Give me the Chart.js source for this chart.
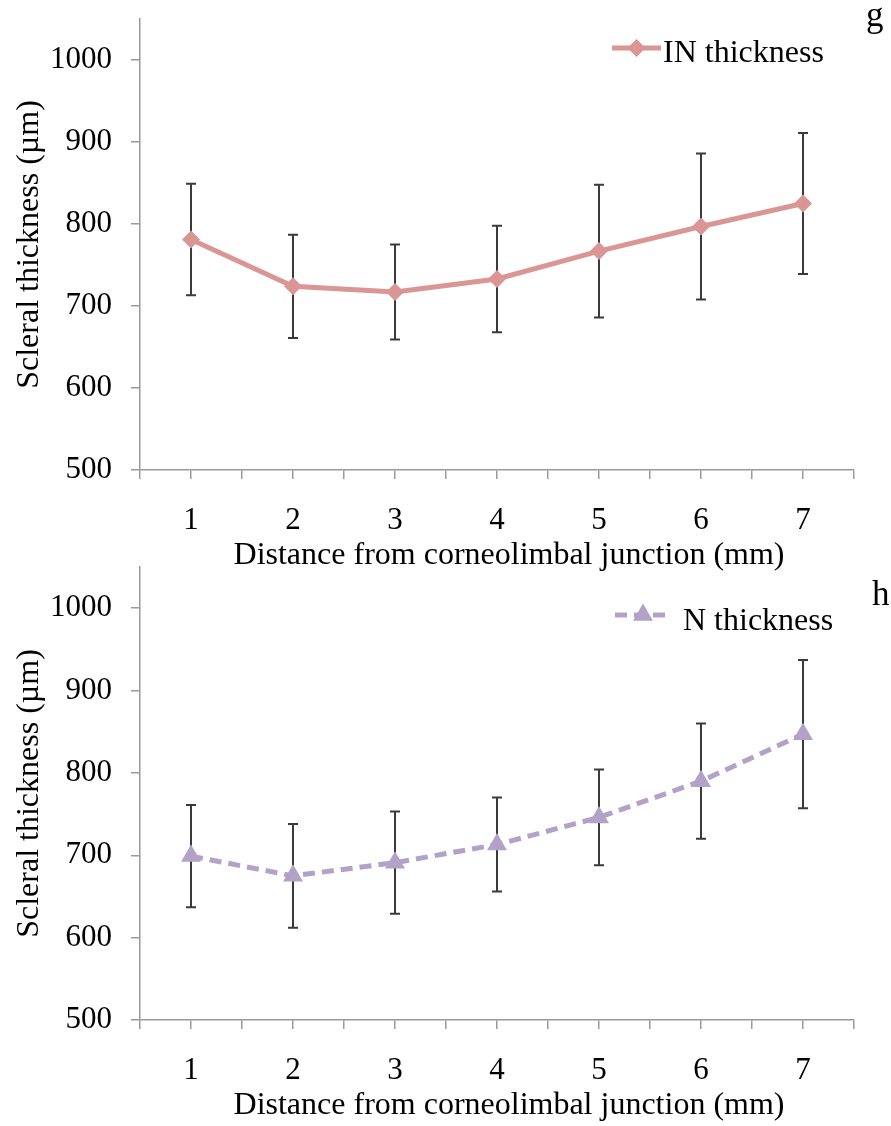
<!DOCTYPE html>
<html>
<head>
<meta charset="utf-8">
<title>Scleral thickness</title>
<script src="https://cdn.jsdelivr.net/npm/chart.js@4.4.1/dist/chart.umd.min.js"></script>
<style>
  html, body { margin: 0; padding: 0; background: #fff; }
  #wrap { position: relative; width: 891px; height: 1126px; }
  #wrap canvas { position: absolute; left: 0; }
  #chartIN { top: 0; }
  #chartN { top: 548px; }
</style>
</head>
<body>
<div id="wrap">
  <canvas id="chartIN" width="891" height="580"></canvas>
  <canvas id="chartN" width="891" height="578"></canvas>
</div>
<script>
// distance from corneolimbal junction (mm)
const distances = [1, 2, 3, 4, 5, 6, 7];

// inferonasal scleral thickness, mean and SD (µm)
const inThickness = [781, 724, 717, 733, 767, 797, 825];
const inSD = [68, 63, 58, 65, 81, 89, 86];

// nasal scleral thickness, mean and SD (µm)
const nThickness = [699, 675, 691, 713, 746, 790, 847];
const nSD = [62, 63, 62, 57, 58, 70, 90];

const yMin = 500, yMax = 1050, yStep = 100;
const xTitle = 'Distance from corneolimbal junction (mm)';
const yTitle = 'Scleral thickness (µm)';

const serif = '"Liberation Serif", "Times New Roman", serif';
const axisGray = '#9a9a9a';
Chart.defaults.font.family = serif;
Chart.defaults.color = '#000';

// whiskers behind the line and markers
const errorBars = {
  id: 'errorBars',
  beforeDatasetsDraw(chart) {
    const { ctx, scales: { x, y } } = chart;
    ctx.save();
    ctx.strokeStyle = '#3a3a3a';
    ctx.lineWidth = 2;
    chart.data.datasets.forEach(ds => {
      ds.data.forEach((p, i) => {
        const e = ds.errors[i];
        const px = x.getPixelForValue(p.x);
        const hi = y.getPixelForValue(p.y + e);
        const lo = y.getPixelForValue(p.y - e);
        ctx.beginPath();
        ctx.moveTo(px, hi); ctx.lineTo(px, lo);
        ctx.moveTo(px - 5, hi); ctx.lineTo(px + 5, hi);
        ctx.moveTo(px - 5, lo); ctx.lineTo(px + 5, lo);
        ctx.stroke();
      });
    });
    ctx.restore();
  }
};

// excel style key (line + marker), x axis title and the panel letter
const seriesKey = {
  id: 'seriesKey',
  afterDraw(chart, args, opts) {
    const ctx = chart.ctx;
    const ds = chart.data.datasets[0];
    const xs = chart.scales.x;
    ctx.save();
    ctx.strokeStyle = ds.borderColor;
    ctx.lineWidth = ds.borderWidth;
    ctx.setLineDash(ds.borderDash || []);
    ctx.beginPath();
    ctx.moveTo(opts.x0, opts.lineY);
    ctx.lineTo(opts.x1, opts.lineY);
    ctx.stroke();
    ctx.setLineDash([]);
    ctx.fillStyle = ds.pointBackgroundColor;
    Chart.helpers.drawPoint(ctx, {
      pointStyle: ds.pointStyle, radius: ds.pointRadius, rotation: 0, borderWidth: 0
    }, (opts.x0 + opts.x1) / 2, opts.lineY);
    ctx.fillStyle = '#000';
    ctx.textBaseline = 'alphabetic';
    ctx.textAlign = 'left';
    ctx.font = '32px ' + serif;
    ctx.fillText(ds.label, opts.textX, opts.textY);
    ctx.textAlign = 'center';
    ctx.fillText(xTitle, (xs.left + xs.right) / 2 + 12, xs.top + 94);
    ctx.textAlign = 'left';
    ctx.font = '35px ' + serif;
    ctx.fillText(opts.panel, opts.panelX, opts.panelY);
    ctx.restore();
  }
};

function makeChart(id, dataset, xAxisHeight, key) {
  return new Chart(document.getElementById(id), {
    type: 'line',
    data: { datasets: [dataset] },
    plugins: [errorBars, seriesKey],
    options: {
      responsive: false,
      animation: false,
      devicePixelRatio: 1,
      layout: { padding: { top: 0, right: 37, left: 0, bottom: 0 } },
      plugins: {
        legend: { display: false },
        tooltip: { enabled: false },
        seriesKey: key
      },
      scales: {
        x: {
          type: 'linear',
          min: 0.5,
          max: 7.5,
          afterFit(s) { s.height = xAxisHeight; },
          ticks: {
            stepSize: 0.5,
            autoSkip: false,
            maxRotation: 0,
            padding: 23,
            font: { size: 31 },
            callback: v => (Number.isInteger(v) && distances.includes(v)) ? String(v) : ''
          },
          grid: { drawOnChartArea: false, drawTicks: true, tickLength: 9, color: axisGray, lineWidth: 1.5 },
          border: { display: true, color: axisGray, width: 1.5 },
          title: { display: false }
        },
        y: {
          min: yMin,
          max: yMax,
          // fixed axis box: 140px wide, 19px free space above the plot
          afterFit(s) { s.width = 140; s.paddingTop = 19; s.paddingBottom = 0; },
          ticks: {
            stepSize: yStep,
            includeBounds: false,
            padding: 19,
            font: { size: 31 },
            callback: v => String(v)
          },
          grid: { drawOnChartArea: false, drawTicks: true, tickLength: 9, color: axisGray, lineWidth: 1.5 },
          border: { display: true, color: axisGray, width: 1.5 },
          title: {
            display: true,
            text: yTitle,
            font: { size: 32 },
            padding: { top: 10, bottom: 0 }
          }
        }
      }
    }
  });
}

const pink = '#d99694';
const lilac = '#b3a2c7';

makeChart('chartIN', {
  label: 'IN thickness',
  data: distances.map((d, i) => ({ x: d, y: inThickness[i] })),
  errors: inSD,
  borderColor: pink,
  borderWidth: 5,
  pointStyle: 'rectRot',
  pointRadius: 9,
  pointBackgroundColor: pink,
  pointBorderWidth: 0,
  tension: 0,
  clip: false
}, 110, {
  x0: 612, x1: 661, lineY: 48, textX: 663, textY: 62,
  panel: 'g', panelX: 866, panelY: 26
});

makeChart('chartN', {
  label: 'N thickness',
  data: distances.map((d, i) => ({ x: d, y: nThickness[i] })),
  errors: nSD,
  borderColor: lilac,
  borderWidth: 5,
  borderDash: [12, 7],
  pointStyle: 'triangle',
  pointRadius: 11.5,
  pointBackgroundColor: lilac,
  pointBorderWidth: 0,
  tension: 0,
  clip: false
}, 106, {
  x0: 615, x1: 671, lineY: 67, textX: 683, textY: 82,
  panel: 'h', panelX: 872, panelY: 57
});
</script>
</body>
</html>
